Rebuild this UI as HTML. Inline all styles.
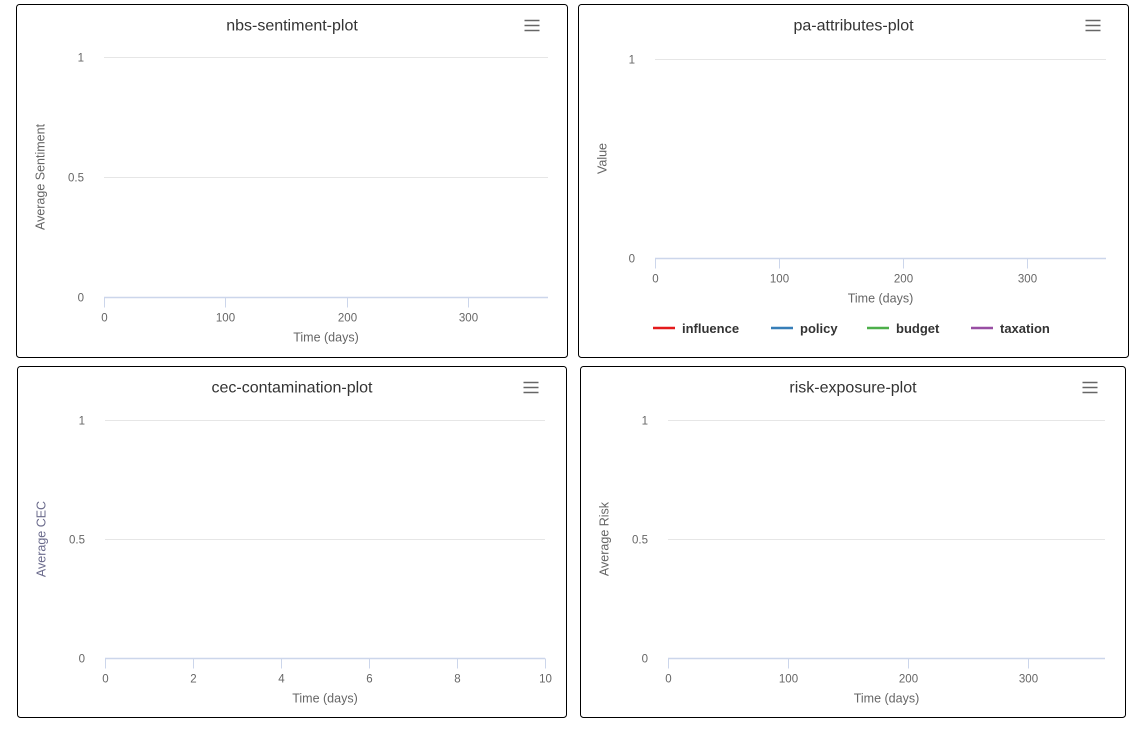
<!DOCTYPE html>
<html><head><meta charset="utf-8">
<style>
html,body{margin:0;padding:0;background:#fff;width:1143px;height:733px;overflow:hidden;font-family:"Liberation Sans",Arial,sans-serif}
svg{position:absolute;left:0;top:0}
</style></head>
<body>
<svg id="s" width="1143" height="733" xmlns="http://www.w3.org/2000/svg"></svg>
<script>
const panelTitles = ["nbs-sentiment-plot","pa-attributes-plot","cec-contamination-plot","risk-exposure-plot"];
const yTitles = ["Average Sentiment","Value","Average CEC","Average Risk"];
const yTicks1 = [0,0.5,1];
const yTicks2 = [0,1];
const xTicksDays = [0,100,200,300];
const xTicksCec = [0,2,4,6,8,10];
const legendNames = ["influence","policy","budget","taxation"];
const legendColors = ["#e41a1c","#377eb8","#4daf4a","#984ea3"];

const NS="http://www.w3.org/2000/svg";
const svg=document.getElementById('s');
function mk(tag,attrs,parent,text){const e=document.createElementNS(NS,tag);for(const k in attrs)e.setAttribute(k,attrs[k]);if(text!==undefined)e.textContent=text;(parent||svg).appendChild(e);return e;}

const panels=[
 {box:[16.5,4.5,551,353],px:[104,548],py:[297,57],xmax:366,yt:yTicks1,xt:xTicksDays,ytColor:"#666"},
 {box:[578.5,4.5,550,353],px:[655,1106],py:[258,59],xmax:364,yt:yTicks2,xt:xTicksDays,ytColor:"#666",legend:true},
 {box:[17.5,366.5,549,351],px:[105,545],py:[658,420],xmax:10,yt:yTicks1,xt:xTicksCec,ytColor:"#6b6b8c"},
 {box:[580.5,366.5,545,351],px:[668,1105],py:[658,420],xmax:364,yt:yTicks1,xt:xTicksDays,ytColor:"#666"}
];

panels.forEach((p,i)=>{
  const g=mk('g',{});
  
  
  const [bx,by,bw,bh]=p.box;
  const r=mk('rect',{x:bx,y:by,width:bw,height:bh,rx:3,fill:'#fff',stroke:'#000','stroke-width':1},g);
  
  
  const xs=v=>p.px[0]+(p.px[1]-p.px[0])*v/p.xmax;
  const ymax=p.yt[p.yt.length-1];
  const ys=v=>p.py[0]+(p.py[1]-p.py[0])*v/ymax;
  const t=mk('text',{x:bx+bw/2,y:by+26,'text-anchor':'middle','font-size':16,fill:'#333'},g,panelTitles[i]);
  
  
  const m=mk('g',{},g);
  
  
  const mx=bx+bw-43;
  [0,5,10].forEach(d=>mk('line',{x1:mx,x2:mx+15,y1:by+16+d,y2:by+16+d,stroke:'#666','stroke-width':1.5},m));
  mk('rect',{x:mx-4,y:by+10,width:23,height:22,fill:'transparent'},m);
  p.yt.forEach(v=>{
    const y=Math.round(ys(v))+0.5;
    if(v!==0){const l=mk('line',{x1:p.px[0],x2:p.px[1],y1:y,y2:y,stroke:'#e6e6e6','stroke-width':1},g);
      }
    const lb=mk('text',{x:p.px[0]-20,y:y+4,'text-anchor':'end','font-size':11.5,fill:'#666'},g,String(v));
    
  });
  const ay=Math.round(p.py[0])+0.5;
  const ax=mk('line',{x1:p.px[0],x2:p.px[1],y1:ay,y2:ay,stroke:'#ccd6eb','stroke-width':1.5},g);
  
  p.xt.forEach(v=>{
    const x=Math.round(xs(v))+0.5;
    mk('line',{x1:x,x2:x,y1:ay,y2:ay+10,stroke:'#ccd6eb','stroke-width':1},g);
    const lb=mk('text',{x:x,y:ay+24,'text-anchor':'middle','font-size':11.5,fill:'#666'},g,String(v));
    
  });
  const xt=mk('text',{x:(p.px[0]+p.px[1])/2,y:ay+44,'text-anchor':'middle','font-size':12.5,fill:'#666'},g,'Time (days)');
  
  const cy=(p.py[0]+p.py[1])/2;
  const yx=bx+28;
  const yt=mk('text',{x:yx,y:cy,'text-anchor':'middle','font-size':12.5,fill:p.ytColor,transform:`rotate(-90 ${yx} ${cy})`},g,yTitles[i]);
  
  if(p.legend){
    const lx=[653,771,867,971];
    legendNames.forEach((n,k)=>{
      const lg=mk('g',{},g);
      
      
      mk('line',{x1:lx[k],x2:lx[k]+22,y1:328,y2:328,stroke:legendColors[k],'stroke-width':2.5},lg);
      mk('text',{x:lx[k]+29,y:333,'font-size':13,'font-weight':'bold',fill:'#333'},lg,n);
    });
  }
});
</script>
</body></html>
